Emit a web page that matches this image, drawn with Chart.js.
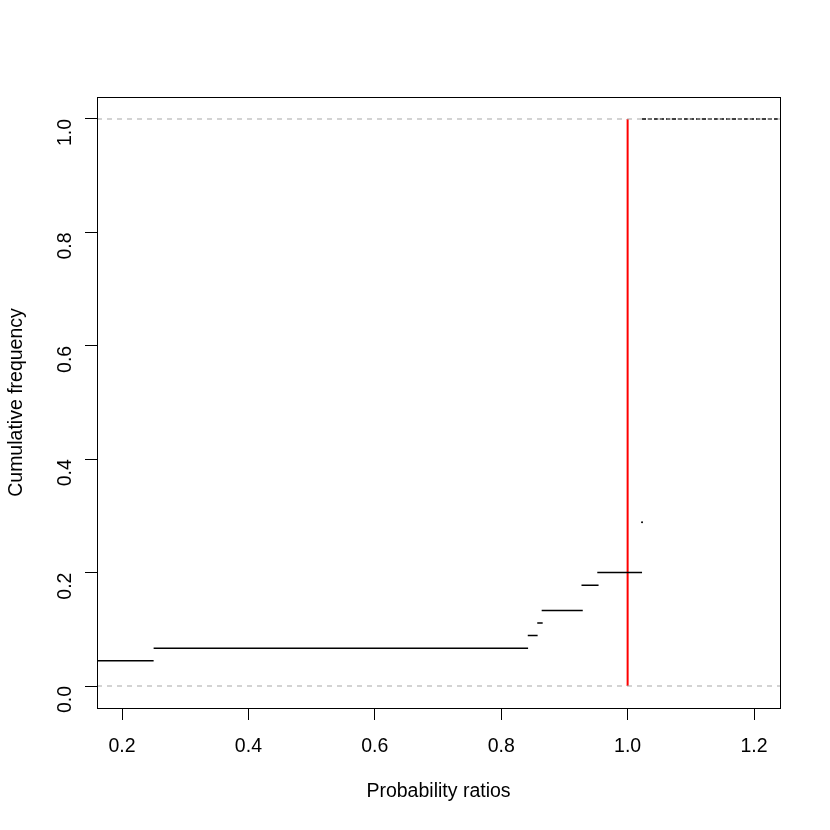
<!DOCTYPE html>
<html>
<head>
<meta charset="utf-8">
<script src="https://cdn.jsdelivr.net/npm/chart.js@4.4.0/dist/chart.umd.min.js"></script>
<style>
  body { margin: 0; background: #fff; }
  canvas { display: block; }
</style>
</head>
<body>
<canvas id="myChart" width="830" height="830"></canvas>
<script>
// step levels of the cumulative frequency and where each step starts/ends
const stepY = [0.0444, 0.0667, 0.0889, 0.1111, 0.1333, 0.1778, 0.2000, 1.0];
const stepStart = [0.1604, 0.2500, 0.8420, 0.8570, 0.8640, 0.9270, 0.9520, 1.0228];
const stepEnd = [0.2500, 0.8425, 0.8576, 0.8656, 0.9290, 0.9540, 1.0228, 1.2411];
const lonePoint = [1.0228, 0.2889];
const refLevels = [0, 1];
const redX = 1.0;
const xTicks = [0.2, 0.4, 0.6, 0.8, 1.0, 1.2];
const yTicks = [0.0, 0.2, 0.4, 0.6, 0.8, 1.0];
const xLimits = [0.1604, 1.2411];
const yLimits = [-0.0388, 1.0388];

const FONT = '"Liberation Sans", Arial, sans-serif';

function stepPoints() {
    const pts = [];
    for (let i = 0; i < stepY.length - 1; i++) {
        pts.push({ x: stepStart[i], y: stepY[i] });
        pts.push({ x: stepEnd[i], y: stepY[i] });
        pts.push({ x: stepEnd[i], y: null });
    }
    return pts;
}

function refPoints() {
    const pts = [];
    refLevels.forEach(function (lv) {
        pts.push({ x: xLimits[0], y: lv });
        pts.push({ x: xLimits[1], y: lv });
        pts.push({ x: xLimits[1], y: null });
    });
    return pts;
}

const last = stepY.length - 1;

const boxPlugin = {
    id: 'box',
    afterDraw(chart) {
        const a = chart.chartArea;
        const ctx = chart.ctx;
        ctx.save();
        ctx.strokeStyle = '#000';
        ctx.lineWidth = 1;
        ctx.strokeRect(a.left + 0.5, a.top + 0.5, a.right - a.left, a.bottom - a.top);
        ctx.fillStyle = '#000';
        ctx.font = '19.5px ' + FONT;
        ctx.textAlign = 'center';
        ctx.textBaseline = 'middle';
        ctx.fillText('Probability ratios', (a.left + a.right) / 2, 792);
        ctx.translate(17, (a.top + a.bottom) / 2);
        ctx.rotate(-Math.PI / 2);
        ctx.fillText('Cumulative frequency', 0, 0);
        ctx.restore();
    }
};

const ctx = document.getElementById('myChart').getContext('2d');
new Chart(ctx, {
    type: 'scatter',
    data: {
        datasets: [
            {
                data: refPoints(),
                showLine: true,
                spanGaps: false,
                borderColor: '#a8a8a8',
                borderWidth: 1.2,
                borderDash: [5, 5],
                pointRadius: 0
            },
            {
                data: stepPoints(),
                showLine: true,
                spanGaps: false,
                borderColor: '#000',
                borderWidth: 1.5,
                pointRadius: 0
            },
            {
                data: [{ x: stepStart[last], y: stepY[last] }, { x: stepEnd[last], y: stepY[last] }],
                showLine: true,
                borderColor: '#000',
                borderWidth: 1.5,
                borderDash: [4, 2],
                pointRadius: 0
            },
            {
                data: [{ x: lonePoint[0], y: lonePoint[1] }],
                showLine: false,
                pointRadius: 1,
                pointBackgroundColor: '#000',
                pointBorderWidth: 0
            },
            {
                data: [{ x: redX, y: 0 }, { x: redX, y: 1 }],
                showLine: true,
                borderColor: '#ff0000',
                borderWidth: 2,
                pointRadius: 0
            }
        ]
    },
    options: {
        responsive: false,
        animation: false,
        layout: { padding: { top: 97, right: 50, left: 0, bottom: 0 } },
        plugins: { legend: { display: false }, tooltip: { enabled: false } },
        scales: {
            x: {
                type: 'linear',
                min: xLimits[0],
                max: xLimits[1],
                afterBuildTicks: function (scale) { scale.ticks = xTicks.map(v => ({ value: v })); },
                afterFit: function (scale) { scale.height = 122; },
                grid: { drawOnChartArea: false, drawTicks: true, tickLength: 12, color: '#000' },
                border: { display: true, color: '#000' },
                ticks: {
                    color: '#000',
                    padding: 15,
                    maxRotation: 0,
                    font: { family: FONT, size: 19.5 },
                    callback: function (v) { return v.toFixed(1); }
                }
            },
            y: {
                type: 'linear',
                min: yLimits[0],
                max: yLimits[1],
                afterBuildTicks: function (scale) { scale.ticks = yTicks.map(v => ({ value: v })); },
                afterFit: function (scale) { scale.width = 97; },
                grid: { drawOnChartArea: false, drawTicks: true, tickLength: 12, color: '#000' },
                border: { display: true, color: '#000' },
                ticks: {
                    color: '#000',
                    padding: 19,
                    minRotation: 90,
                    maxRotation: 90,
                    font: { family: FONT, size: 19.5 },
                    callback: function (v) { return v.toFixed(1); }
                }
            }
        }
    },
    plugins: [boxPlugin]
});
</script>
</body>
</html>
